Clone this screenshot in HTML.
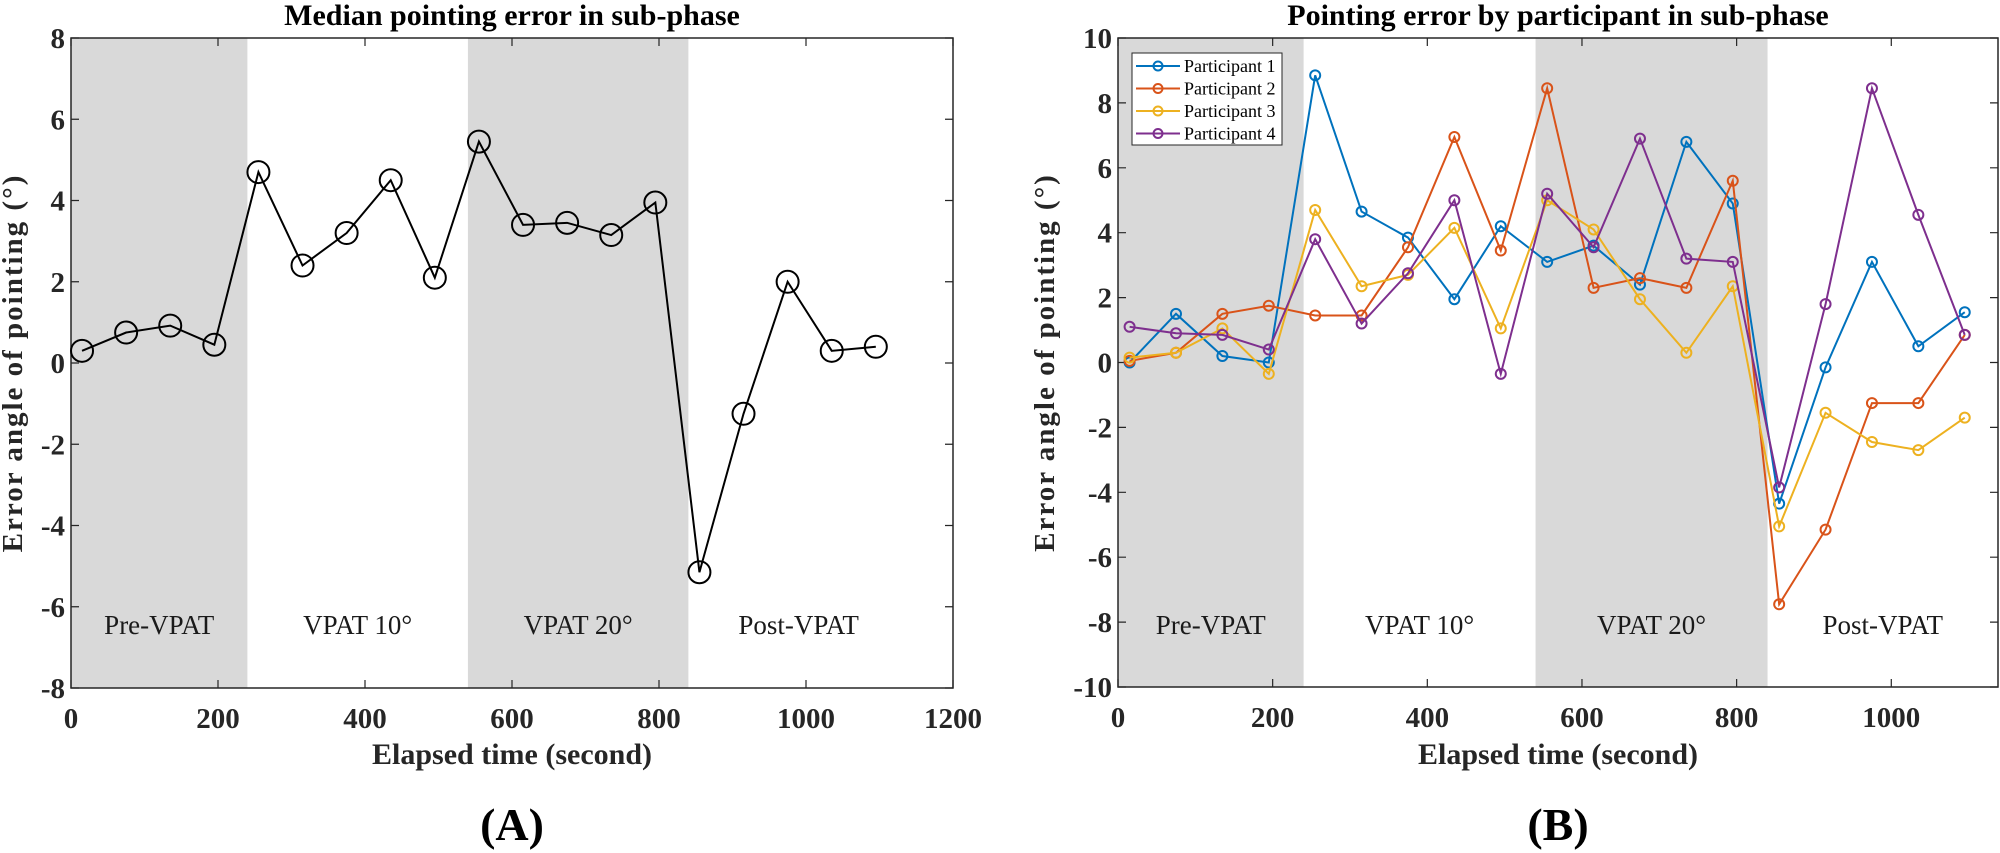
<!DOCTYPE html>
<html><head><meta charset="utf-8"><style>
body{margin:0;background:#fff;}
svg{display:block;font-family:"Liberation Serif",serif;}
</style></head><body>
<svg id="fig" width="2000" height="853" xmlns="http://www.w3.org/2000/svg"></svg>
<script>
const times=[15,75,135,195,255,315,375,435,495,555,615,675,735,795,855,915,975,1035,1095];
const median=[0.3,0.75,0.92,0.45,4.7,2.4,3.2,4.5,2.1,5.45,3.4,3.45,3.15,3.95,-5.15,-1.25,2.0,0.3,0.4];
const p1=[0,1.5,0.2,0,8.85,4.65,3.85,1.95,4.2,3.1,3.6,2.4,6.8,4.9,-4.35,-0.15,3.1,0.5,1.55];
const p2=[0.05,0.3,1.5,1.75,1.45,1.45,3.55,6.95,3.45,8.45,2.3,2.6,2.3,5.6,-7.45,-5.15,-1.25,-1.25,0.85];
const p3=[0.15,0.3,1.05,-0.35,4.7,2.35,2.7,4.15,1.05,5.0,4.1,1.95,0.3,2.35,-5.05,-1.55,-2.45,-2.7,-1.7];
const p4=[1.1,0.9,0.85,0.4,3.8,1.2,2.75,5.0,-0.35,5.2,3.55,6.9,3.2,3.1,-3.85,1.8,8.45,4.55,0.85];
const seriesNames=["Participant 1","Participant 2","Participant 3","Participant 4"];
const phases=["Pre-VPAT","VPAT 10°","VPAT 20°","Post-VPAT"];
const phaseBounds=[0,240,540,840,1140];
const xTicksA=[0,200,400,600,800,1000,1200];
const yTicksA=[-8,-6,-4,-2,0,2,4,6,8];
const xTicksB=[0,200,400,600,800,1000];
const yTicksB=[-10,-8,-6,-4,-2,0,2,4,6,8,10];
const colors=["#0072BD","#D95319","#EDB120","#7E2F8E"];

const NS="http://www.w3.org/2000/svg";
const svg=document.getElementById('fig');
function mk(tag,attrs,parent,text){const e=document.createElementNS(NS,tag);for(const k in attrs)e.setAttribute(k,attrs[k]);if(text!==undefined)e.textContent=text;(parent||svg).appendChild(e);return e;}

function drawChart(cfg){
  const g=mk('g',{});
  
  
  const X=v=>cfg.L+(v-cfg.xmin)/(cfg.xmax-cfg.xmin)*(cfg.R-cfg.L);
  const Y=v=>cfg.B-(v-cfg.ymin)/(cfg.ymax-cfg.ymin)*(cfg.B-cfg.T);
  for(let i=0;i<phases.length;i++){
    const x0=X(phaseBounds[i]),x1=Math.min(X(phaseBounds[i+1]),cfg.R);
    if(i%2===0){const r=mk('rect',{x:x0,y:cfg.T,width:x1-x0,height:cfg.B-cfg.T,fill:'#d9d9d9'},g);
      
      }
    const t=mk('text',{x:(x0+x1)/2,y:cfg.phaseY,'font-size':27,'text-anchor':'middle',fill:'#1a1a1a'},g,phases[i]);
    
    
  }
  const ax=mk('path',{d:`M${cfg.L},${cfg.T}H${cfg.R}V${cfg.B}H${cfg.L}Z`,fill:'none',stroke:'#262626','stroke-width':1.5},g);
  
  
  cfg.xt.forEach(v=>{const x=X(v);
    mk('path',{d:`M${x},${cfg.B}v-8M${x},${cfg.T}v8`,stroke:'#262626','stroke-width':1.2},g);
    const t=mk('text',{x:x,y:cfg.B+40,'font-size':29,'font-weight':'bold','text-anchor':'middle',fill:'#262626'},g,v);
    
    });
  cfg.yt.forEach(v=>{const y=Y(v);
    mk('path',{d:`M${cfg.L},${y}h8M${cfg.R},${y}h-8`,stroke:'#262626','stroke-width':1.2},g);
    const t=mk('text',{x:cfg.L-6,y:y+10,'font-size':29,'font-weight':'bold','text-anchor':'end',fill:'#262626'},g,v);
    
    });
  cfg.series.forEach((s,si)=>{
    const pts=times.map((t,i)=>X(t)+','+Y(s.vals[i])).join(' ');
    const pl=mk('polyline',{points:pts,fill:'none',stroke:s.color,'stroke-width':s.w},g);
    
    
    times.forEach((t,i)=>{const c=mk('circle',{cx:X(t),cy:Y(s.vals[i]),r:s.r,fill:'none',stroke:s.color,'stroke-width':s.w},g);
      
      });
  });
  const tt=mk('text',{x:(cfg.L+cfg.R)/2,y:25,'font-size':30,'font-weight':'bold','text-anchor':'middle',fill:'#000'},g,cfg.title);
  
  
  const xl=mk('text',{x:(cfg.L+cfg.R)/2,y:764,'font-size':30,'font-weight':'bold','text-anchor':'middle',fill:'#262626'},g,'Elapsed time (second)');
  
  
  const cy=(cfg.T+cfg.B)/2;
  const yl=mk('text',{x:cfg.ylx,y:cy,'font-size':29,'font-weight':'bold','text-anchor':'middle',fill:'#262626',transform:`rotate(-90 ${cfg.ylx} ${cy})`,'letter-spacing':'2'},g,'Error angle of pointing (°)');
  
  
  const pl=mk('text',{x:(cfg.L+cfg.R)/2,y:840,'font-size':46,'font-weight':'bold','text-anchor':'middle',fill:'#000'},g,cfg.panel);
  
  
  return {g,X,Y};
}

drawChart({name:'median-chart',L:71,R:953,T:38,B:688,xmin:0,xmax:1200,ymin:-8,ymax:8,xt:xTicksA,yt:yTicksA,phaseY:634,ylx:22,
  title:'Median pointing error in sub-phase',panel:'(A)',
  series:[{name:'median',vals:median,color:'#000',w:2,r:11}]});

drawChart({name:'participant-chart',L:1118,R:1998,T:38,B:687,xmin:0,xmax:1138,ymin:-10,ymax:10,xt:xTicksB,yt:yTicksB,phaseY:634,ylx:1054,
  title:'Pointing error by participant in sub-phase',panel:'(B)',
  series:[p1,p2,p3,p4].map((v,i)=>({name:'participant-'+(i+1),vals:v,color:colors[i],w:2,r:5}))});

const lg=mk('g',{});


mk('rect',{x:1132,y:53,width:150,height:92,fill:'#fff',stroke:'#262626','stroke-width':1},lg);
seriesNames.forEach((n,i)=>{
  const y=66+i*22.5;
  const e=mk('g',{},lg);
  
  
  mk('path',{d:`M1136,${y}H1180`,stroke:colors[i],'stroke-width':2},e);
  mk('circle',{cx:1158,cy:y,r:4.5,fill:'none',stroke:colors[i],'stroke-width':2},e);
  mk('text',{x:1184,y:y+6,'font-size':18,fill:'#000'},e,n);
});
</script>
</body></html>
